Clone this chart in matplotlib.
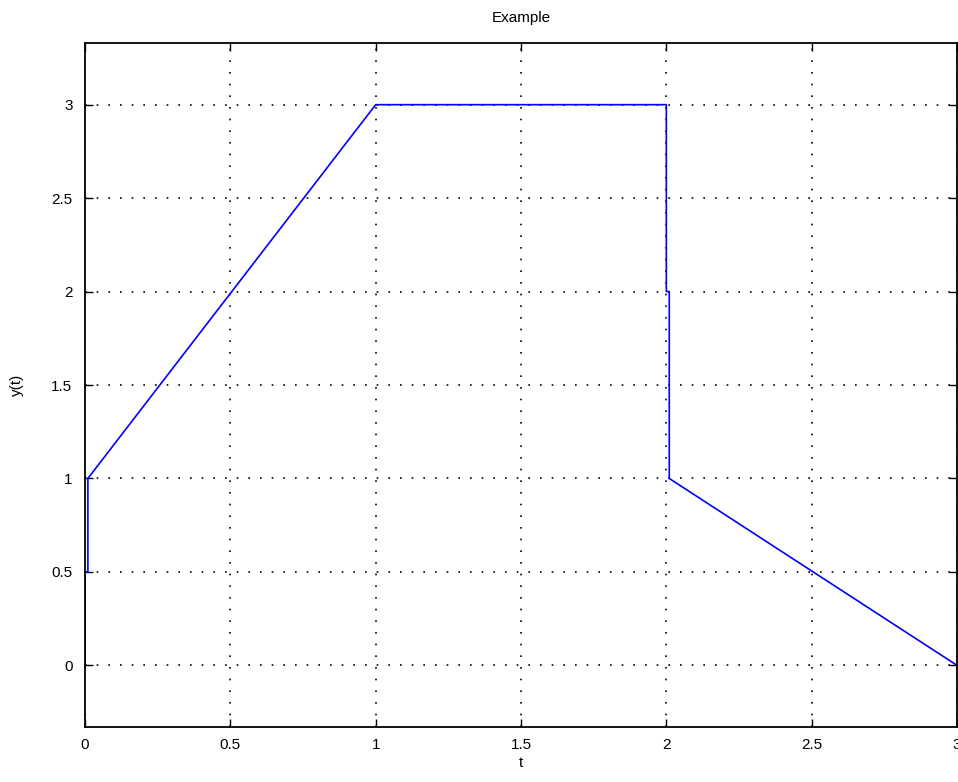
import matplotlib
matplotlib.use("Agg")
import matplotlib.pyplot as plt

# signal breakpoints
t = [0, 0, 0.01, 0.01, 1, 2, 2, 2.01, 2.01, 3]
y = [0, 0.5, 0.5, 1, 3, 3, 2, 2, 1, 0]

xticks = [0, 0.5, 1, 1.5, 2, 2.5, 3]
yticks = [0, 0.5, 1, 1.5, 2, 2.5, 3]

plt.rcParams['font.family'] = ['Liberation Sans', 'DejaVu Sans']

fig = plt.figure(figsize=(9.58, 7.82), dpi=100)
ax = fig.add_axes([0.0887, 0.0703, 0.9103, 0.8747])

ax.plot(t, y, color='blue', linewidth=1.2)

ax.set_xlim(0, 3)
ax.set_ylim(-0.33, 3.33)
ax.set_xticks(xticks)
ax.set_yticks(yticks)
ax.set_xticklabels(['0', '0.5', '1', '1.5', '2', '2.5', '3'])
ax.set_yticklabels(['0', '0.5', '1', '1.5', '2', '2.5', '3'])

ax.grid(True, color='black', linestyle=(0, (1, 6)), linewidth=1.2)
ax.tick_params(axis='x', pad=8)
ax.tick_params(axis='y', pad=9)
ax.tick_params(direction='in', top=True, right=True, length=6, width=1,
               labelsize=11)
for s in ax.spines.values():
    s.set_linewidth(1.3)

ax.set_title('Example', fontsize=11, pad=15)
ax.set_xlabel('t', fontsize=11, labelpad=3)
ax.set_ylabel('y(t)', fontsize=11, labelpad=20)

fig.savefig('out.png', dpi=100)
